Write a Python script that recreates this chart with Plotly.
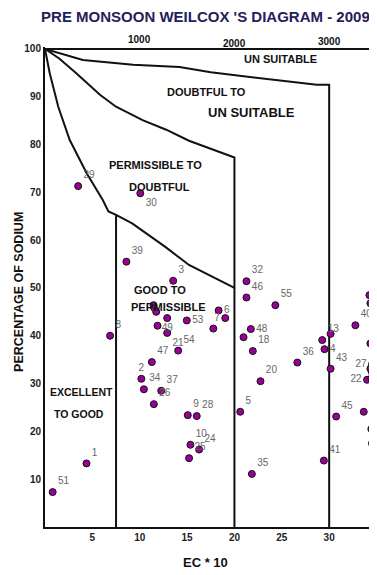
import plotly.graph_objects as go

# ---- sample data (EC*10, % Na) ----
labels = ["1", "51", "29", "30", "39", "3", "8", "", "", "49", "", "21", "53", "6", "7", "",
          "54", "47", "2", "34", "37", "26", "9", "28", "10", "24", "25", "5", "35", "20",
          "32", "46", "55", "48", "", "18", "36", "13", "", "4", "43", "40", "41", "45", "42",
          "31", "", "50", "27", "", "", "22", "", "", ""]
ec10 = [4.38, 0.81, 3.50, 10.06, 8.59, 13.53, 6.87, 11.46, 11.74, 12.90, 11.88, 12.90, 14.97, 18.33, 19.03, 17.77,
        14.06, 11.28, 10.17, 10.44, 12.27, 11.49, 15.07, 16.02, 15.35, 16.27, 15.21, 20.61, 21.84, 22.75,
        21.27, 21.27, 24.32, 21.73, 20.96, 21.94, 26.64, 29.27, 30.15, 29.51, 30.15, 32.77, 29.44, 30.74, 33.65,
        34.25, 34.35, 34.35, 34.52, 34.35, 34.52, 34.00, 34.45, 34.45, 34.52]
sodium = [13.3, 7.3, 71.3, 69.8, 55.5, 51.5, 40.0, 46.4, 45.0, 43.7, 42.1, 40.6, 43.2, 45.3, 43.7, 41.5,
          36.9, 34.5, 31.0, 28.8, 28.5, 25.7, 23.4, 23.2, 17.2, 16.2, 14.4, 24.1, 11.1, 30.5,
          51.4, 48.0, 46.4, 41.4, 39.7, 36.8, 34.4, 39.1, 40.4, 37.2, 33.1, 42.2, 13.9, 23.1, 24.1,
          48.5, 46.8, 38.4, 34.0, 33.1, 32.4, 30.8, 31.1, 20.5, 17.5]
label_pos = ["top right", "top right", "top right", "bottom right", "top right", "top right", "top right",
             "top right", "top right", "bottom center", "top right", "bottom right", "middle right",
             "middle right", "middle left", "top right", "top right", "top right", "top center",
             "top right", "top right", "top right", "top right", "top right", "top right", "top right",
             "top right", "top right", "top right", "top right", "top right", "top right", "top right",
             "middle right", "top right", "top right", "top right", "top right", "top right",
             "middle right", "top right", "top right", "top right", "top right", "top right",
             "top right", "top right", "top right", "middle left", "top right", "top right",
             "middle left", "top right", "top right", "top right"]

# ---- Wilcox class boundaries ----
top_x = [0, 34.7, 34.7]
top_y = [100, 100, 0]
unsuit_x = [0, 4.0, 9.3, 14.2, 17.5, 23.0, 28.7, 30.0, 30.0]
unsuit_y = [100, 97.7, 96.7, 96.2, 95.1, 93.8, 92.5, 92.5, 0]
doubt_x = [0, 1.5, 3.3, 5.8, 7.5, 10.3, 12.8, 15.2, 20.0, 20.0]
doubt_y = [100, 98.0, 94.9, 90.4, 87.9, 85.1, 83.1, 80.8, 77.3, 0]
perm_x = [0, 0.5, 1.4, 2.6, 4.4, 6.1, 6.7, 7.5, 9.2, 12.7, 15.2, 17.5, 20.0]
perm_y = [100, 94.9, 87.9, 81.0, 74.0, 68.4, 66.0, 65.3, 63.5, 58.6, 54.8, 52.5, 50.0]
exc_x = [7.5, 7.5]
exc_y = [65.3, 0]

x_ticks = [5, 10, 15, 20, 25, 30]
x_edge_tick = 35
y_ticks = [10, 20, 30, 40, 50, 60, 70, 80, 90, 100]
top_ticks = [10, 20, 30]
top_text = ["1000", "2000", "3000"]
top_shift = [1.015, 1.007, 1.011]

regions = [("UN SUITABLE", 24.9, 97.9, 11), ("DOUBTFUL TO", 17.0, 91.0, 11),
           ("UN SUITABLE", 21.8, 86.6, 13), ("PERMISSIBLE TO", 11.7, 75.7, 11),
           ("DOUBTFUL", 12.1, 71.1, 11), ("GOOD TO", 12.1, 49.6, 11),
           ("PERMISSIBLE", 13.0, 46.0, 11), ("EXCELLENT", 3.9, 28.2, 10.5),
           ("TO GOOD", 3.6, 23.6, 10.5)]

FONT = "Liberation Sans, Arial, sans-serif"
fig = go.Figure()
for bx, by in [(top_x, top_y), (unsuit_x, unsuit_y), (doubt_x, doubt_y), (perm_x, perm_y), (exc_x, exc_y)]:
    fig.add_trace(go.Scatter(x=bx, y=by, mode="lines", line=dict(color="#111111", width=2),
                             hoverinfo="skip", showlegend=False))

fig.add_trace(go.Scatter(
    x=ec10, y=sodium, mode="markers+text", text=labels, textposition=label_pos,
    textfont=dict(family=FONT, size=10, color="#666666"),
    marker=dict(size=7, color="#990099", line=dict(color="#111111", width=1)),
    cliponaxis=False, showlegend=False))

ann = []
for t, xv, yv, s in regions:
    ann.append(dict(text=t, x=xv, y=yv, xref="x", yref="y", showarrow=False,
                    xanchor="center", yanchor="middle",
                    font=dict(family=FONT, size=s, color="#111111", weight="bold")))
for xv, t, yv in zip(top_ticks, top_text, top_shift):
    ann.append(dict(text=t, x=xv, y=yv, xref="x", yref="paper", showarrow=False,
                    xanchor="center", yanchor="middle",
                    font=dict(family=FONT, size=10, color="#111111", weight="bold")))
# tick label at the very edge of the axis (partly cut off, as in the original)
ann.append(dict(text=str(x_edge_tick), x=x_edge_tick, y=-0.022, xref="x", yref="paper",
                showarrow=False, xanchor="center", yanchor="middle",
                font=dict(family=FONT, size=10, color="#222222", weight="bold")))
ann.append(dict(text="PERCENTAGE OF SODIUM", x=-0.078, y=0.49, xref="paper", yref="paper",
                textangle=-90, showarrow=False, xanchor="center", yanchor="middle",
                font=dict(family=FONT, size=12.5, color="#111111", weight="bold")))
ann.append(dict(text="EC * 10", x=0.482, y=-0.073, xref="paper", yref="paper", showarrow=False,
                xanchor="center", yanchor="middle",
                font=dict(family=FONT, size=13, color="#111111", weight="bold")))

# page body has an 8px margin, so the figure is shrunk and offset to fit the window
fig.update_layout(
    width=369, height=559, paper_bgcolor="white", plot_bgcolor="white",
    margin=dict(l=37, r=0, t=39, b=40),
    title=dict(text="PRE MONSOON WEILCOX 'S DIAGRAM - 2009", x=0.535, y=1 - 9 / 559,
               xanchor="center", yanchor="middle",
               font=dict(family=FONT, size=15, color="#24205a", weight="bold")),
    annotations=ann,
    xaxis=dict(range=[0, 35.05], tickvals=x_ticks, showgrid=False, zeroline=False,
               showline=True, linecolor="#111111", linewidth=2, ticks="",
               tickfont=dict(family=FONT, size=10, color="#222222", weight="bold")),
    yaxis=dict(range=[0, 100.4], tickvals=y_ticks, showgrid=False, zeroline=False,
               showline=True, linecolor="#111111", linewidth=2, ticks="",
               tickfont=dict(family=FONT, size=10, color="#222222", weight="bold")),
)
fig.write_html("out.html")
